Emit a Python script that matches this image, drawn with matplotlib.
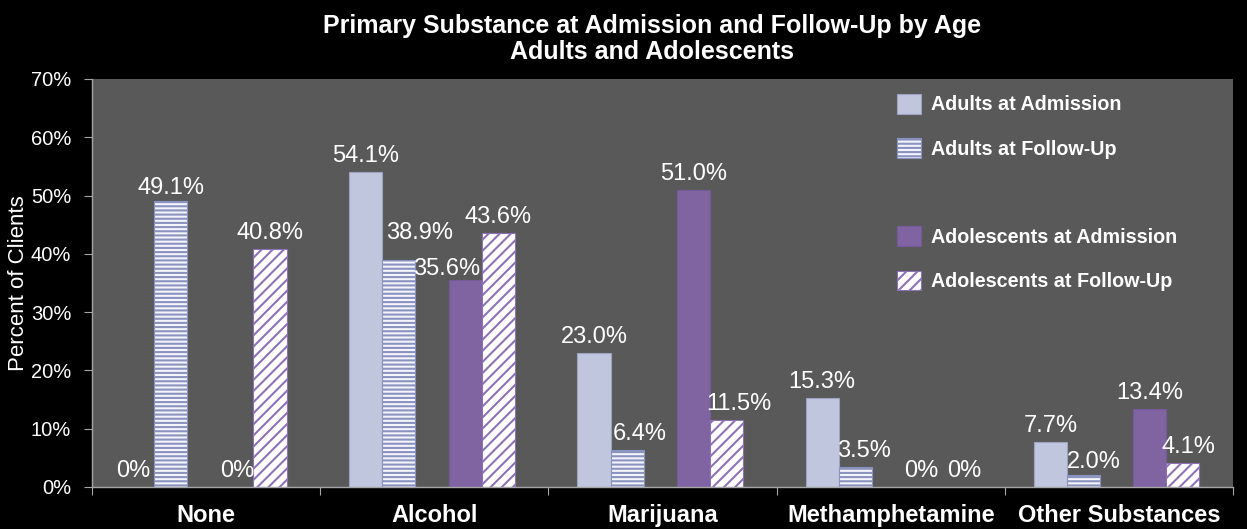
import numpy as np
import matplotlib
matplotlib.use("Agg")
import matplotlib.pyplot as plt
from matplotlib.patches import Patch

# ------------------------------------------------------------
# Datos
# ------------------------------------------------------------
categorias = ["None", "Alcohol", "Marijuana", "Methamphetamine", "Other Substances"]
series = ["Adults at Admission", "Adults at Follow-Up",
          "Adolescents at Admission", "Adolescents at Follow-Up"]
adultos_admision = [0.0, 54.1, 23.0, 15.3, 7.7]
adultos_seguimiento = [49.1, 38.9, 6.4, 3.5, 2.0]
adol_admision = [0.0, 35.6, 51.0, 0.0, 13.4]
adol_seguimiento = [40.8, 43.6, 11.5, 0.0, 4.1]
etiquetas_y = ["0%", "10%", "20%", "30%", "40%", "50%", "60%", "70%"]

valores = [adultos_admision, adultos_seguimiento, adol_admision, adol_seguimiento]

# ------------------------------------------------------------
# Estilo
# ------------------------------------------------------------
plt.rcParams['font.family'] = ['Liberation Sans', 'DejaVu Sans']
plt.rcParams['hatch.linewidth'] = 1.5

estilos = [
    dict(color='#C0C6DD', edgecolor='#9CA2C0', hatch=None),
    dict(color='#F4F4FA', edgecolor='#8A92C0', hatch='----'),
    dict(color='#8064A2', edgecolor='#75599A', hatch=None),
    dict(color='#FFFFFF', edgecolor='#8E72B5', hatch='///'),
]
desplaz = [-2, -1, 1, 2]
ancho = 0.145

# ajustes manuales de etiquetas (pixeles), como en el original
ajustes = {
    (0, 0): (-4, 0),
    (1, 0): (0, -3),
    (1, 1): (21, 11),
    (2, 1): (-18, -5),
    (1, 2): (13, 0),
    (3, 2): (12, 0),
    (1, 3): (9, 0),
    (3, 3): (10, 0),
    (1, 4): (10, -3),
    (3, 4): (6, 0),
}

fig = plt.figure(figsize=(12.47, 5.29), dpi=100, facecolor='black')
ax = fig.add_axes([92 / 1247, 1 - 487 / 529, (1233 - 92) / 1247, (487 - 79) / 529])
ax.set_facecolor('#595959')

x = np.arange(len(categorias))
handles = []
for s, (vals, est) in enumerate(zip(valores, estilos)):
    barras = ax.bar(x + desplaz[s] * ancho - 0.01, vals, width=ancho,
                    color=est['color'], edgecolor=est['edgecolor'],
                    hatch=est['hatch'], linewidth=0.8, label=series[s])
    handles.append(barras)
    for i, v in enumerate(vals):
        dx, dy = ajustes.get((s, i), (0, 0))
        txt = "0%" if v == 0 else f"{v:.1f}%"
        ax.annotate(txt, (x[i] + desplaz[s] * ancho - 0.01, v),
                    xytext=(dx, 10 + dy), textcoords='offset pixels',
                    ha='center', va='baseline', color='white', fontsize=17)

ax.set_xlim(-0.5, len(categorias) - 0.5)
ax.set_ylim(0, 70)
ax.set_yticks(np.arange(0, 71, 10))
ax.set_yticklabels(etiquetas_y)

# marcas en los limites de categoria, etiquetas en el centro
ax.set_xticks(np.arange(-0.5, len(categorias), 1.0))
ax.set_xticklabels([])
ax.set_xticks(x, minor=True)
ax.set_xticklabels(categorias, minor=True, fontsize=17, fontweight='bold', color='white')
ax.tick_params(axis='x', which='major', length=6, color='#A6A6A6', direction='out')
ax.tick_params(axis='x', which='minor', length=0, pad=12)
ax.tick_params(axis='y', length=6, color='#A6A6A6', direction='out', pad=9,
               labelsize=14.5, labelcolor='white')

for lado in ['top', 'right']:
    ax.spines[lado].set_visible(False)
for lado in ['left', 'bottom']:
    ax.spines[lado].set_color('#A6A6A6')
    ax.spines[lado].set_linewidth(1.0)

ax.set_ylabel("Percent of Clients", fontsize=16, color='white')
ax.yaxis.set_label_coords(-0.055, 0.5)

# leyenda con un hueco entre adultos y adolescentes
vacio = Patch(facecolor='none', edgecolor='none', label=' ')
leg_handles = [handles[0], handles[1], vacio, handles[2], handles[3]]
leg_labels = [series[0], series[1], ' ', series[2], series[3]]
leg = fig.legend(leg_handles, leg_labels, loc='upper left',
                 bbox_to_anchor=(897 / 1247, 1 - 94 / 529),
                 frameon=False, fontsize=14.2, borderpad=0, borderaxespad=0,
                 handlelength=1.2, handleheight=1.15, handletextpad=0.5,
                 labelspacing=1.2)
for t in leg.get_texts():
    t.set_color('white')
    t.set_fontweight('bold')

fig.text(652 / 1247, 1 - 39 / 529,
         "Primary Substance at Admission and Follow-Up by Age\nAdults and Adolescents",
         ha='center', va='center', color='white', fontsize=18, fontweight='bold',
         linespacing=1.15)

fig.savefig("out.png", dpi=100, facecolor='black')
